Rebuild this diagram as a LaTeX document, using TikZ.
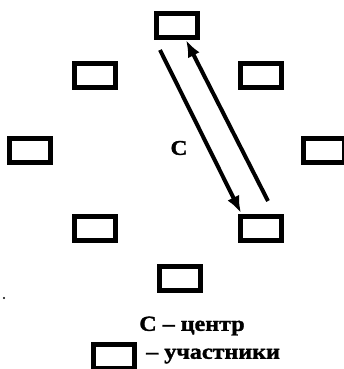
\documentclass[tikz,border=0pt]{standalone}
\usepackage{fontspec}
\setmainfont{Liberation Serif}
\newfontfamily\widefont[FakeStretch=1.12,FakeBold=1.5]{Liberation Serif}
\usetikzlibrary{arrows.meta}
\tikzset{
  member/.style={draw, line width=5pt, minimum width=41pt, minimum height=24pt, inner sep=0pt},
  link/.style={line width=4pt, -{Latex[length=17pt,width=13pt]}},
  lbl/.style={font=\widefont\bfseries\fontsize{21.5}{21.5}\selectfont, inner sep=0pt}
}
\begin{document}
\begin{tikzpicture}[x=1pt,y=-1pt]
\useasboundingbox (0,0) rectangle (343,369);
\node[member] (t)  at (177,26) {};
\node[member] (ul) at (95,75) {};
\node[member] (ur) at (261,75) {};
\node[member] (l)  at (30,150) {};
\node[member] (r)  at (324,150) {};
\node[member] (ll) at (95,228) {};
\node[member] (lr) at (261,228) {};
\node[member] (b)  at (180,278) {};
\node[lbl, font=\widefont\bfseries\fontsize{21}{21}\selectfont] (c) at (179,148) {С};
\coordinate (s1) at (160,50);
\coordinate (e1) at (241,213);
\coordinate (s2) at (268,201);
\coordinate (e2) at (186,40);
\draw[link] (s1) -- (e1);
\draw[link] (s2) -- (e2);
\fill (4,298) circle (1.2pt);
\node[lbl] (leg1) at (192,326) {С – центр};
\node[member] (lb) at (114,356) {};
\node[lbl, anchor=west] (leg2) at (146,356) {– участники};
\end{tikzpicture}
\end{document}
